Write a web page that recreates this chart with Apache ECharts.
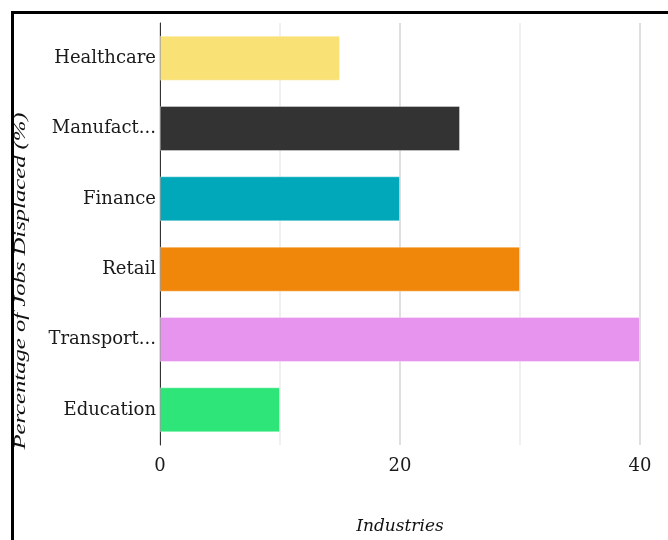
<!DOCTYPE html>
<html>
<head>
<meta charset="utf-8">
<script src="https://cdn.jsdelivr.net/npm/echarts@6/dist/echarts.min.js"></script>
<style>
    html, body { margin: 0; padding: 0; background: #fff; overflow: hidden; }
    #chart { position: absolute; left: 0; top: 0; width: 668px; height: 540px; }
    #frame { position: absolute; left: 11px; top: 11px; width: 700px; height: 600px; border: 3px solid #000; pointer-events: none; }
</style>
</head>
<body>
<div id="chart"></div>
<div id="frame"></div>
<script>
// jobs displaced by industry
const industries = ['Healthcare', 'Manufacturing', 'Finance', 'Retail', 'Transportation', 'Education']
const displaced = [15, 25, 20, 30, 40, 10]
const barColors = ['#f9e176', '#333333', '#00a8ba', '#f0870a', '#e694ee', '#2ee57a']
const xTicks = [0, 20, 40]

const wideSerif = '"DejaVu Serif", serif'
const serif = '"Liberation Serif", "Times New Roman", serif'

const chart = echarts.init(document.getElementById('chart'))

chart.setOption({
    animation: false,
    grid: { left: 160, right: 28, top: 23, bottom: 93 },
    xAxis: {
        type: 'value',
        min: xTicks[0],
        max: xTicks[xTicks.length - 1],
        interval: xTicks[1] - xTicks[0],
        name: 'Industries',
        nameLocation: 'middle',
        nameGap: 73,
        nameTextStyle: { fontFamily: wideSerif, fontStyle: 'italic', fontSize: 17, color: '#111' },
        axisLine: { show: false },
        axisTick: { show: false },
        axisLabel: { fontFamily: wideSerif, fontSize: 18, color: '#1a1a1a', margin: 12 },
        splitLine: { show: true, lineStyle: { color: '#d4d4d4', width: 1.5 } },
        minorTick: { show: false, splitNumber: 2 },
        minorSplitLine: { show: true, lineStyle: { color: '#ebebeb', width: 1.5 } }
    },
    yAxis: {
        type: 'category',
        inverse: true,
        data: industries,
        axisLine: { show: true, lineStyle: { color: '#333', width: 1 } },
        axisTick: { show: false },
        axisLabel: {
            fontFamily: wideSerif, fontSize: 18, color: '#1a1a1a', margin: 4,
            width: 114, overflow: 'truncate', ellipsis: '...'
        }
    },
    graphic: [{
        type: 'text',
        x: 21,
        y: 281,
        rotation: Math.PI / 2,
        scaleX: 1.54,
        style: {
            text: 'Percentage of Jobs Displaced (%)',
            font: 'italic 16px ' + serif,
            fill: '#111',
            align: 'center',
            verticalAlign: 'middle'
        }
    }],
    series: [{
        type: 'bar',
        data: displaced.map((v, i) => ({ value: v, itemStyle: { color: barColors[i] } })),
        barCategoryGap: '36%',
        itemStyle: { borderColor: 'rgba(255,255,255,0.35)', borderWidth: 1 }
    }]
})
</script>
</body>
</html>
